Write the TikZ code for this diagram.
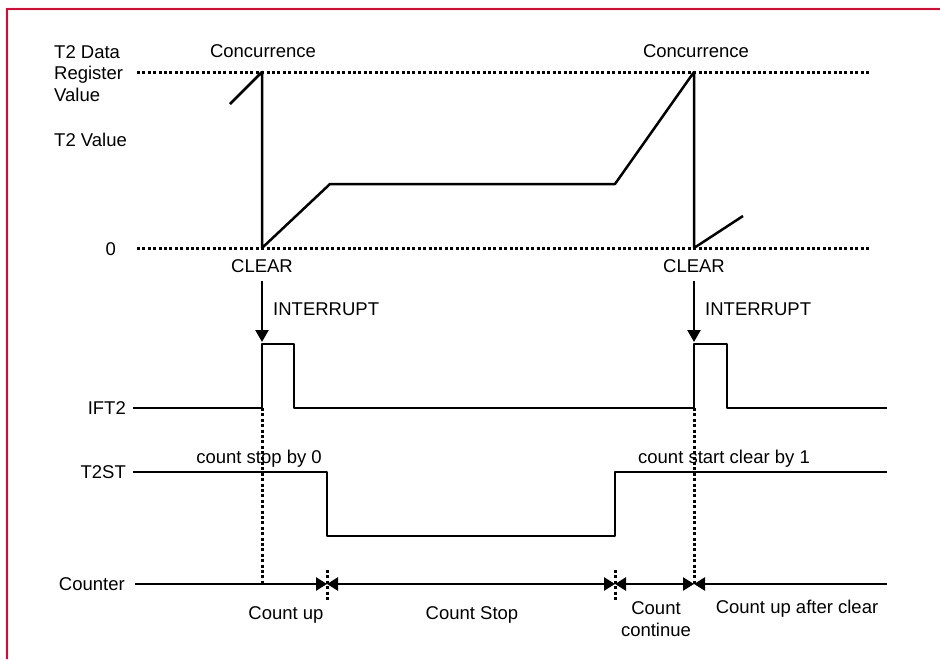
\documentclass[tikz,border=0pt]{standalone}
\usepackage{fontspec}
\setmainfont{Liberation Sans}
\usetikzlibrary{arrows.meta}
\definecolor{framered}{RGB}{238,0,45}
\newcommand{\mylblfont}{\fontsize{18.5}{21.5}\selectfont}
\begin{document}
\begin{tikzpicture}[x=1pt,y=-1pt,
  sig/.style={line width=2.5pt, line join=round},
  dots/.style={line width=3pt, dash pattern=on 3pt off 2.4pt},
  lbl/.style={inner sep=0pt, font=\mylblfont},
  >={Triangle[length=11pt,width=13pt]}]
\useasboundingbox (0,0) rectangle (940,659);
% frame
\draw[framered, line width=2.6pt] (7,659) -- (7,9) -- (940,9);

% ---- left labels
\node[lbl, anchor=north west, align=left] (t2data) at (54,45) {T2 Data\\Register\\Value};
\node[lbl, anchor=base west] (t2val) at (54,146) {T2 Value};
\node[lbl, anchor=base east] (zero) at (116,255) {0};
\node[lbl, anchor=base east] (ift2) at (126,414) {IFT2};
\node[lbl, anchor=base east] (t2st) at (126,478) {T2ST};
\node[lbl, anchor=base east] (counter) at (125,590) {Counter};

% ---- reference dotted levels
\coordinate (topL) at (137,72);  \coordinate (topR) at (870,72);
\coordinate (zeroL) at (137,248); \coordinate (zeroR) at (870,248);
\draw[dots] (topL) -- (topR);
\draw[dots] (zeroL) -- (zeroR);

% ---- T2 value waveform
\coordinate (w0) at (230,104);
\coordinate (w1) at (262,72);
\coordinate (w2) at (262,248);
\coordinate (w3) at (330,184);
\coordinate (w4) at (615,184);
\coordinate (w5) at (694,72);
\coordinate (w6) at (694,248);
\coordinate (w7) at (743,216);
\draw[sig] (w0) -- (w1) -- (w2) -- (w3) -- (w4) -- (w5) -- (w6) -- (w7);

\node[lbl, anchor=base] (conc1) at (263,57) {Concurrence};
\node[lbl, anchor=base] (conc2) at (696,57) {Concurrence};
\node[lbl, anchor=base] (clear1) at (262,272) {CLEAR};
\node[lbl, anchor=base] (clear2) at (694,272) {CLEAR};

% ---- interrupt arrows
\coordinate (ia1) at (262,281); \coordinate (ib1) at (262,342);
\coordinate (ia2) at (694,281); \coordinate (ib2) at (694,342);
\draw[sig, -{Triangle[length=12pt,width=13pt]}] (ia1) -- (ib1);
\draw[sig, -{Triangle[length=12pt,width=13pt]}] (ia2) -- (ib2);
\node[lbl, anchor=base west] (int1) at (273,315) {INTERRUPT};
\node[lbl, anchor=base west] (int2) at (705,315) {INTERRUPT};

% ---- IFT2
\coordinate (f0) at (133,408);
\coordinate (f1) at (262,408); \coordinate (f2) at (262,344);
\coordinate (f3) at (294,344); \coordinate (f4) at (294,408);
\coordinate (f5) at (694,408); \coordinate (f6) at (694,344);
\coordinate (f7) at (727,344); \coordinate (f8) at (727,408);
\coordinate (f9) at (887,408);
\draw[sig] (f0) -- (f1) -- (f2) -- (f3) -- (f4) -- (f5) -- (f6) -- (f7) -- (f8) -- (f9);

% ---- T2ST
\coordinate (s0) at (133,472);
\coordinate (s1) at (327,472); \coordinate (s2) at (327,536);
\coordinate (s3) at (615,536); \coordinate (s4) at (615,472);
\coordinate (s5) at (887,472);
\draw[sig] (s0) -- (s1) -- (s2) -- (s3) -- (s4) -- (s5);
\node[lbl, anchor=base] (csb0) at (259,463) {count stop by 0};
\node[lbl, anchor=base] (cscb1) at (724,463) {count start clear by 1};

% ---- Counter
\coordinate (c0) at (135,584);
\coordinate (cA) at (262,584);
\coordinate (cB) at (327,584);
\coordinate (cC) at (615,584);
\coordinate (cD) at (694,584);
\coordinate (cE) at (887,584);
\draw[sig] (c0) -- (cA);
\draw[sig, ->] (cA) -- (cB);
\draw[sig, <->] (cB) -- (cC);
\draw[sig, <->] (cC) -- (cD);
\draw[sig, <-] (cD) -- (cE);

% dotted markers
\draw[dots] (f1) -- (cA);
\draw[dots] (f5) -- (cD);
\coordinate (mB1) at (327,570); \coordinate (mB2) at (327,600);
\coordinate (mC1) at (615,570); \coordinate (mC2) at (615,600);
\draw[dots] (mB1) -- (mB2);
\draw[dots] (mC1) -- (mC2);

\node[lbl, anchor=base] (cup) at (286,619) {Count up};
\node[lbl, anchor=base] (cstop) at (472,619) {Count Stop};
\node[lbl, anchor=base, align=center] (ccont) at (656,636) {Count\\continue};
\node[lbl, anchor=base] (cupac) at (797,613) {Count up after clear};
\end{tikzpicture}
\end{document}
